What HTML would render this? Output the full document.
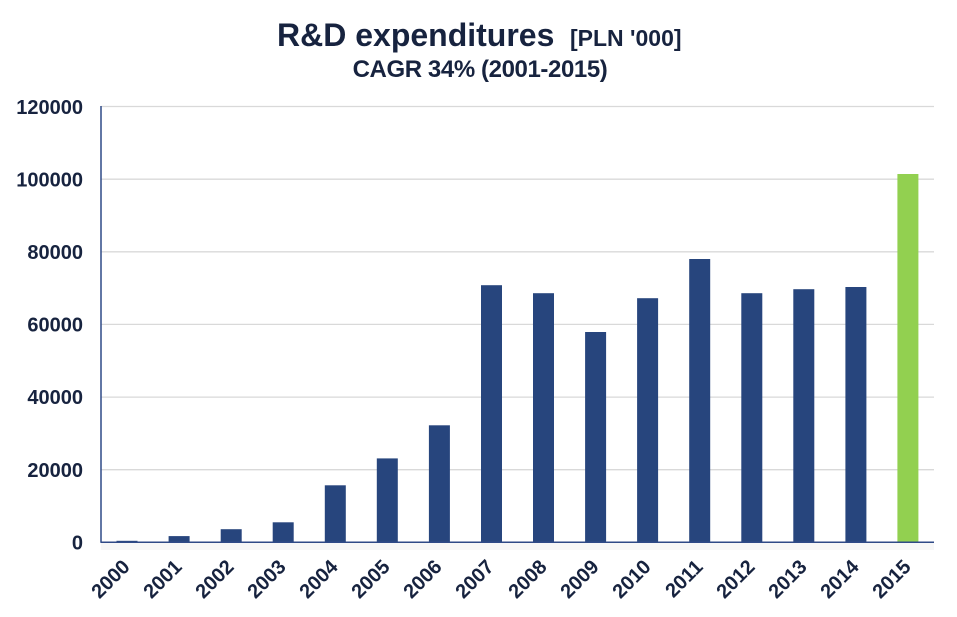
<!DOCTYPE html>
<html><head><meta charset="utf-8"><style>
html,body{margin:0;padding:0;background:#fff;}
svg{display:block;}
text{font-family:"Liberation Sans",Arial,sans-serif;font-weight:bold;fill:#17233f;}
</style></head><body>
<svg width="957" height="617" viewBox="0 0 957 617" xmlns="http://www.w3.org/2000/svg">
<rect width="957" height="617" fill="#fff"/>
<text x="277" y="46" font-size="32">R&amp;D expenditures</text>
<text x="570" y="46" font-size="23">[PLN '000]</text>
<text x="480" y="77" font-size="24" text-anchor="middle" letter-spacing="-0.4">CAGR 34% (2001-2015)</text>
<g stroke="#d9d9d9" stroke-width="1.3">
<line x1="101" y1="106.5" x2="934" y2="106.5"/>
<line x1="101" y1="179.2" x2="934" y2="179.2"/>
<line x1="101" y1="251.8" x2="934" y2="251.8"/>
<line x1="101" y1="324.4" x2="934" y2="324.4"/>
<line x1="101" y1="397.1" x2="934" y2="397.1"/>
<line x1="101" y1="469.7" x2="934" y2="469.7"/>
</g>
<g font-size="20" text-anchor="end">
<text x="83" y="114">120000</text>
<text x="83" y="186.5">100000</text>
<text x="83" y="259">80000</text>
<text x="83" y="331.5">60000</text>
<text x="83" y="404">40000</text>
<text x="83" y="477">20000</text>
<text x="83" y="549.5">0</text>
</g>
<rect x="101" y="543" width="833" height="7" fill="#f7f7f7"/>
<g fill="#27457d">
<rect x="116.5" y="540.8" width="21" height="1.5"/>
<rect x="168.6" y="536.1" width="21" height="6.2"/>
<rect x="220.7" y="529.2" width="21" height="13.1"/>
<rect x="272.7" y="522.3" width="21" height="20"/>
<rect x="324.8" y="485.3" width="21" height="57"/>
<rect x="376.8" y="458.4" width="21" height="83.9"/>
<rect x="428.9" y="425.3" width="21" height="117"/>
<rect x="481.0" y="285.2" width="21" height="257.1"/>
<rect x="533.0" y="293.2" width="21" height="249.1"/>
<rect x="585.1" y="332.0" width="21" height="210.3"/>
<rect x="637.1" y="298.2" width="21" height="244.1"/>
<rect x="689.2" y="259.0" width="21" height="283.3"/>
<rect x="741.3" y="293.2" width="21" height="249.1"/>
<rect x="793.3" y="289.2" width="21" height="253.1"/>
<rect x="845.4" y="287.0" width="21" height="255.3"/>
</g>
<rect x="897.4" y="174.0" width="21" height="368.3" fill="#92d050"/>
<line x1="101" y1="106" x2="101" y2="542.5" stroke="#2f4a87" stroke-width="1.5"/>
<line x1="100.5" y1="542.3" x2="934" y2="542.3" stroke="#2f4a87" stroke-width="1.5"/>
<g font-size="20" text-anchor="end">
<text transform="translate(131,568) rotate(-45)">2000</text>
<text transform="translate(183,568) rotate(-45)">2001</text>
<text transform="translate(235,568) rotate(-45)">2002</text>
<text transform="translate(287,568) rotate(-45)">2003</text>
<text transform="translate(339,568) rotate(-45)">2004</text>
<text transform="translate(391,568) rotate(-45)">2005</text>
<text transform="translate(443,568) rotate(-45)">2006</text>
<text transform="translate(495,568) rotate(-45)">2007</text>
<text transform="translate(548,568) rotate(-45)">2008</text>
<text transform="translate(600,568) rotate(-45)">2009</text>
<text transform="translate(652,568) rotate(-45)">2010</text>
<text transform="translate(704,568) rotate(-45)">2011</text>
<text transform="translate(756,568) rotate(-45)">2012</text>
<text transform="translate(808,568) rotate(-45)">2013</text>
<text transform="translate(860,568) rotate(-45)">2014</text>
<text transform="translate(912,568) rotate(-45)">2015</text>
</g>
</svg>
</body></html>
